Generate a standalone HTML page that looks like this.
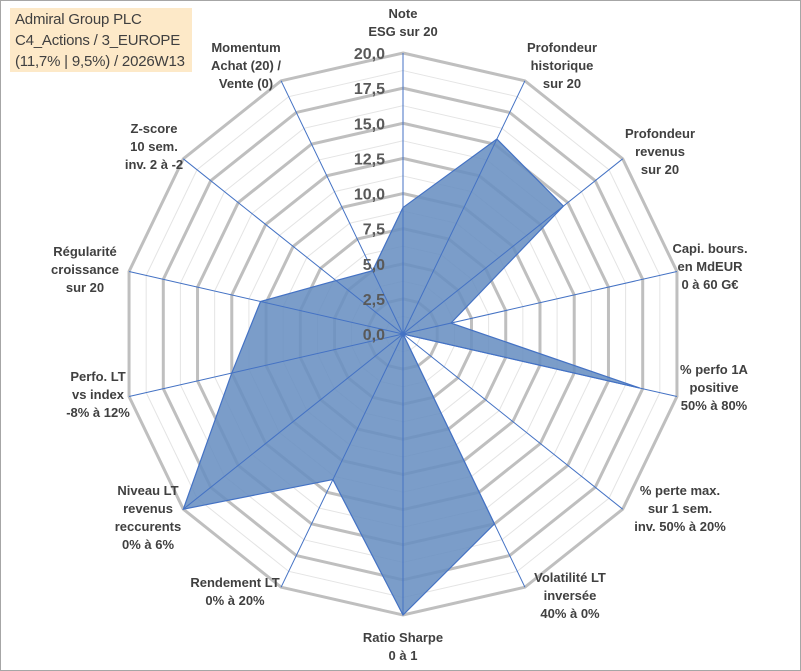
<!DOCTYPE html>
<html><head><meta charset="utf-8"><style>
body{margin:0;background:#fff;}
#wrap{position:relative;width:801px;height:671px;overflow:hidden;}
#frame{position:absolute;left:0;top:0;width:799px;height:669px;border:1px solid #a6a6a6;}
.title{position:absolute;left:10px;top:8px;width:182px;height:64px;background:#fde9c8;font:15px "Liberation Sans",sans-serif;color:#404040;line-height:21px;padding-left:5px;box-sizing:border-box;padding-top:1px;letter-spacing:-0.2px;}
svg text{font-family:"Liberation Sans",sans-serif;}
</style></head><body>
<div id="wrap">
<div id="frame"></div>
<svg id="chart" width="801" height="671" style="position:absolute;left:0;top:0"></svg>
<div class="title">Admiral Group PLC<br>C4_Actions / 3_EUROPE<br>(11,7% | 9,5%) / 2026W13</div>
</div>
<script>
const categories=[["Note","ESG sur 20"],["Profondeur","historique","sur 20"],["Profondeur","revenus","sur 20"],["Capi. bours.","en MdEUR","0 à 60 G€"],["% perfo 1A","positive","50% à 80%"],["% perte max.","sur 1 sem.","inv. 50% à 20%"],["Volatilité LT","inversée","40% à 0%"],["Ratio Sharpe","0 à 1"],["Rendement LT","0% à 20%"],["Niveau LT","revenus","reccurents","0% à 6%"],["Perfo. LT","vs index","-8% à 12%"],["Régularité","croissance","sur 20"],["Z-score","10 sem.","inv. 2 à -2"],["Momentum","Achat (20) /","Vente (0)"]];
const values=[9.0,15.4,14.6,3.5,17.3,0.0,15.0,20.0,11.5,20.0,12.5,10.4,6.1,5.0];
const tickLabels=["0,0","2,5","5,0","7,5","10,0","12,5","15,0","17,5","20,0"];
const tickValues=[0,2.5,5,7.5,10,12.5,15,17.5,20];
const labelPos=[[403,18],[562,52],[660,138],[710,253],[714,374],[680,495],[570,582],[403,642],[235,587],[148,495],[98,381],[85,256],[154,133],[246,52]];
const svg=document.getElementById('chart');
const NS='http://www.w3.org/2000/svg';
const cx=403,cy=334,R=281,maxV=20,N=categories.length;
function rScale(v){return v/maxV*R;}
function pt(i,v){const a=i*2*Math.PI/N;return [cx+rScale(v)*Math.sin(a),cy-rScale(v)*Math.cos(a)];}
function mk(tag,attrs){const e=document.createElementNS(NS,tag);for(const k in attrs)e.setAttribute(k,attrs[k]);svg.appendChild(e);return e;}
for(let t=1.25;t<20;t+=2.5){
 const p=mk('polygon',{points:categories.map((c,i)=>pt(i,t).join(',')).join(' '),fill:'none',stroke:'#e4e4e4','stroke-width':1});
 
 
}
tickValues.forEach(t=>{if(t===0)return;
 const p=mk('polygon',{points:categories.map((c,i)=>pt(i,t).join(',')).join(' '),fill:'none',stroke:'#bfbfbf','stroke-width':3});
 
 
});
const area=mk('polygon',{points:values.map((v,i)=>pt(i,v).join(',')).join(' '),fill:'#6990c2','fill-opacity':0.88,stroke:'#4472c4','stroke-width':1.2});


categories.forEach((c,i)=>{const e=pt(i,20);
 const l=mk('line',{x1:cx,y1:cy,x2:e[0],y2:e[1],stroke:'#4472c4','stroke-width':1});
 
 
});
tickValues.forEach((t,k)=>{
 const tx=mk('text',{x:cx-18,y:cy-rScale(t)+6,'text-anchor':'end','font-size':16,'font-weight':'bold',fill:'#595959'});
 tx.textContent=tickLabels[k];
 
 
});
categories.forEach((c,i)=>{
 const [x,y]=labelPos[i];
 const tx=mk('text',{x:x,y:y,'text-anchor':'middle','font-size':13,'font-weight':'bold',fill:'#404040'});
 
 
 c.forEach((line,j)=>{const s=document.createElementNS(NS,'tspan');s.setAttribute('x',x);s.setAttribute('dy',j===0?0:18);s.textContent=line;tx.appendChild(s);});
});
</script>
</body></html>
